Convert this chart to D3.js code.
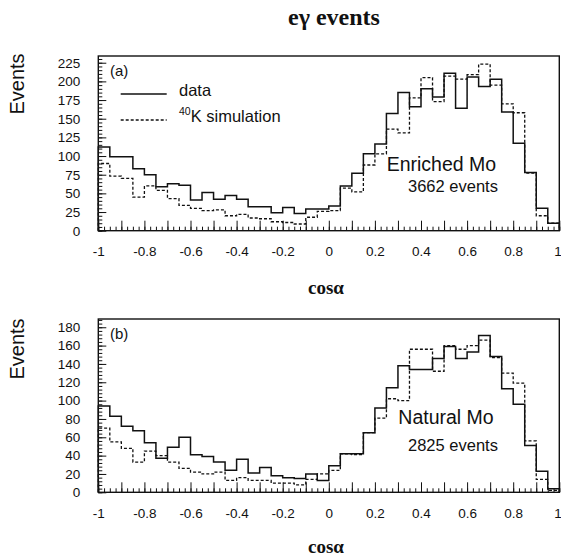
<!DOCTYPE html>
<html>
<head>
<meta charset="utf-8">
<script src="https://cdn.jsdelivr.net/npm/d3@7"></script>
<style>
  html, body { margin: 0; padding: 0; background: #fff; }
  svg { display: block; }
  .sans { font-family: "Liberation Sans", Arial, Helvetica, sans-serif; fill: #111; }
  .serif { font-family: "Liberation Serif", "Times New Roman", serif; font-weight: bold; fill: #111; }
</style>
</head>
<body>
<svg id="chart" width="561" height="558"></svg>
<script>
// Bin edges: 40 bins of width 0.05 on cos(alpha) in [-1, 1]
const binLow = d3.range(40).map(i => -1 + i * 0.05);

// Panel (a): enriched Mo, 3662 events
const enrichedData = [112, 99, 99, 83, 75, 59, 63, 61, 41, 51, 42, 47, 42, 32, 32, 24, 31, 23, 29, 29,
                      33, 60, 77, 103, 116, 157, 185, 166, 190, 179, 211, 164, 206, 193, 203, 159, 117, 78, 30, 10];
const enrichedSim  = [90, 73, 70, 45, 60, 54, 43, 34, 30, 27, 28, 20, 22, 17, 16, 12, 11, 9, 18, 26,
                      27, 57, 52, 88, 103, 136, 131, 178, 205, 173, 207, 203, 209, 223, 195, 170, 158, 77, 20, 10];

// Panel (b): natural Mo, 2825 events
const naturalData = [94, 83, 72, 67, 54, 37, 49, 60, 41, 39, 33, 24, 36, 21, 27, 18, 16, 15, 20, 13,
                     29, 42, 42, 65, 92, 114, 138, 134, 134, 146, 159, 146, 153, 171, 148, 113, 96, 51, 23, 4];
const naturalSim  = [70, 55, 48, 33, 45, 40, 33, 26, 22, 20, 22, 13, 16, 13, 13, 10, 10, 8, 14, 20,
                     24, 42, 41, 65, 81, 102, 100, 156, 156, 132, 160, 156, 160, 166, 147, 130, 119, 56, 14, 2];

const xTicks = [-1, -0.8, -0.6, -0.4, -0.2, 0, 0.2, 0.4, 0.6, 0.8, 1];
const yTicksA = [0, 25, 50, 75, 100, 125, 150, 175, 200, 225];
const yTicksB = [0, 20, 40, 60, 80, 100, 120, 140, 160, 180];

const svg = d3.select("#chart");

const left = 98.3, right = 559.3;
const x = d3.scaleLinear().domain([-1, 1]).range([left, right]);

const panels = [
  { tag: "(a)", top: 56, bottom: 230.7, ymax: 234, ticks: yTicksA, minorStep: 5,
    data: enrichedData, sim: enrichedSim, name: "Enriched Mo", count: "3662 events",
    nameY: 170.7, countY: 191.7, nameX: 386.7, legend: true, eventsY: 84, cosY: 294 },
  { tag: "(b)", top: 319, bottom: 492.3, ymax: 189, ticks: yTicksB, minorStep: 4,
    data: naturalData, sim: naturalSim, name: "Natural Mo", count: "2825 events",
    nameY: 424, countY: 450.7, nameX: 398.3, legend: false, eventsY: 349, cosY: 553 }
];

// Page title
svg.append("text").attr("class", "serif")
  .attr("x", 334).attr("y", 25).attr("text-anchor", "middle")
  .style("font-size", "24px").text("eγ events");

// Step outline of a histogram: starts and ends on the baseline
function stepLine(values, y) {
  const pts = [[x(-1), y(0)]];
  values.forEach((v, i) => {
    pts.push([x(binLow[i]), y(v)]);
    pts.push([x(binLow[i] + 0.05), y(v)]);
  });
  pts.push([x(1), y(0)]);
  return d3.line()(pts);
}

const fmt = d => String(+(+d).toFixed(2));

panels.forEach(p => {
  const y = d3.scaleLinear().domain([0, p.ymax]).range([p.bottom, p.top]);
  const g = svg.append("g");

  // x tick labels (the last one sits flush with the page edge)
  g.append("g").attr("transform", `translate(0,${p.bottom})`)
    .call(d3.axisBottom(x).tickValues(xTicks).tickSize(0).tickPadding(16).tickFormat(fmt))
    .call(a => a.select(".domain").remove())
    .call(a => a.selectAll("text").attr("class", "sans").style("font-size", "13.5px").attr("fill", "#111"))
    .call(a => a.selectAll("text").filter(d => d === 1).attr("text-anchor", "end").attr("dx", "2"));

  // x ticks pointing into the frame: minor every 0.025, major every 0.1
  g.append("g").attr("transform", `translate(0,${p.bottom})`)
    .call(d3.axisTop(x).tickValues(d3.range(-1, 1.0001, 0.025)).tickSize(4).tickFormat(""))
    .call(a => a.select(".domain").remove());
  g.append("g").attr("transform", `translate(0,${p.bottom})`)
    .call(d3.axisTop(x).tickValues(d3.range(-1, 1.0001, 0.1)).tickSize(10).tickFormat(""))
    .call(a => a.select(".domain").remove());

  // y tick labels
  g.append("g").attr("transform", `translate(${left},0)`)
    .call(d3.axisLeft(y).tickValues(p.ticks).tickSize(0).tickPadding(18))
    .call(a => a.select(".domain").remove())
    .call(a => a.selectAll("text").attr("class", "sans").style("font-size", "13.5px").attr("fill", "#111"));

  // y ticks pointing into the frame
  g.append("g").attr("transform", `translate(${left},0)`)
    .call(d3.axisRight(y).tickValues(d3.range(0, p.ymax, p.minorStep)).tickSize(4).tickFormat(""))
    .call(a => a.select(".domain").remove());
  g.append("g").attr("transform", `translate(${left},0)`)
    .call(d3.axisRight(y).tickValues(p.ticks).tickSize(8).tickFormat(""))
    .call(a => a.select(".domain").remove());

  g.selectAll(".tick line").attr("stroke", "#111").attr("stroke-width", 1);

  // histograms
  g.append("path").attr("d", stepLine(p.sim, y))
    .attr("fill", "none").attr("stroke", "#111").attr("stroke-width", 1.3)
    .attr("stroke-dasharray", "3,2");
  g.append("path").attr("d", stepLine(p.data, y))
    .attr("fill", "none").attr("stroke", "#111").attr("stroke-width", 1.5);

  // frame
  g.append("rect").attr("x", left).attr("y", p.top)
    .attr("width", right - left).attr("height", p.bottom - p.top)
    .attr("fill", "none").attr("stroke", "#111").attr("stroke-width", 1.4);

  // panel tag
  g.append("text").attr("class", "sans").attr("x", 110).attr("y", p.top + 20)
    .style("font-size", "15px").text(p.tag);

  // sample annotation
  g.append("text").attr("class", "sans").attr("x", p.nameX).attr("y", p.nameY)
    .style("font-size", "19.5px").text(p.name);
  g.append("text").attr("class", "sans").attr("x", 408).attr("y", p.countY)
    .style("font-size", "16.5px").text(p.count);

  // axis titles
  g.append("text").attr("class", "sans")
    .attr("transform", `translate(24,${p.eventsY}) rotate(-90)`)
    .attr("text-anchor", "middle").style("font-size", "20px").text("Events");
  g.append("text").attr("class", "serif")
    .attr("x", 326).attr("y", p.cosY).attr("text-anchor", "middle")
    .style("font-size", "19px").text("cosα");

  if (p.legend) {
    g.append("line").attr("x1", 120.7).attr("x2", 166.7).attr("y1", 94).attr("y2", 94)
      .attr("stroke", "#111").attr("stroke-width", 1.5);
    g.append("text").attr("class", "sans").attr("x", 179).attr("y", 95.5)
      .style("font-size", "16.5px").text("data");
    g.append("line").attr("x1", 120.7).attr("x2", 166.7).attr("y1", 120).attr("y2", 120)
      .attr("stroke", "#111").attr("stroke-width", 1.3).attr("stroke-dasharray", "3,2");
    const t = g.append("text").attr("class", "sans").attr("x", 179).attr("y", 121.7)
      .style("font-size", "16.5px");
    t.append("tspan").attr("dy", "-7").style("font-size", "10.5px").text("40");
    t.append("tspan").attr("dy", "7").text("K simulation");
  }
});
</script>
</body>
</html>
